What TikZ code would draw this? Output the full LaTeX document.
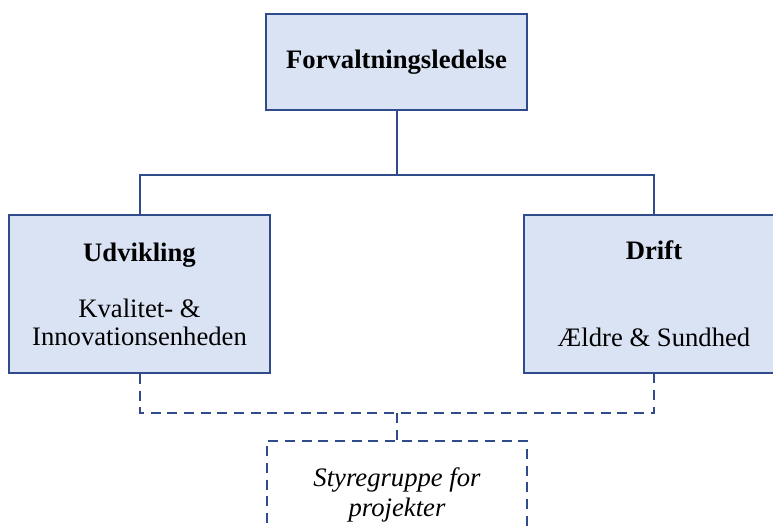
\documentclass[tikz,border=0pt]{standalone}
\usepackage{fontspec}
\setmainfont{Liberation Serif}
\definecolor{boxfill}{HTML}{DAE3F3}
\definecolor{boxline}{HTML}{2F4B8C}
\begin{document}
\begin{tikzpicture}[x=0.75pt,y=-0.75pt,
  box/.style={draw=boxline, line width=1.5pt, fill=boxfill, inner sep=0pt, align=center,
    font=\fontsize{20}{21}\selectfont},
  dbox/.style={draw=boxline, line width=1.5pt, dash pattern=on 7.5pt off 5pt, inner sep=0pt,
    align=center, font=\fontsize{20}{22.5}\selectfont\itshape},
  conn/.style={draw=boxline, line width=1.5pt},
  dconn/.style={draw=boxline, line width=1.5pt, dash pattern=on 7.5pt off 5pt},
  ]
\useasboundingbox (0,0) rectangle (773,528);
\node[box, minimum width=195.75pt, minimum height=72pt] (top) at (396.5,62) {\textbf{Forvaltningsledelse}};
\node[box, minimum width=195.4pt, minimum height=118.5pt] (left) at (139.5,294)
  {\textbf{Udvikling}\\[21pt] Kvalitet- \&\\ Innovationsenheden};
\node[box, minimum width=195pt, minimum height=118.5pt] (right) at (654,294)
  {\textbf{Drift}\\[44pt] Ældre \& Sundhed};
\node[dbox, minimum width=195pt, minimum height=81pt] (bot) at (397,495)
  {Styregruppe for\\ projekter};
\coordinate (jt) at (396.5,175);
\coordinate (jb) at (397,413);
\draw[conn] (top.south) -- (jt);
\draw[conn] (left.north) |- (jt) -| (right.north);
\draw[dconn] (left.south) -- (left.south |- jb) -- (right.south |- jb) -- (right.south);
\draw[dconn] (jb) -- (bot.north);
\end{tikzpicture}
\end{document}
